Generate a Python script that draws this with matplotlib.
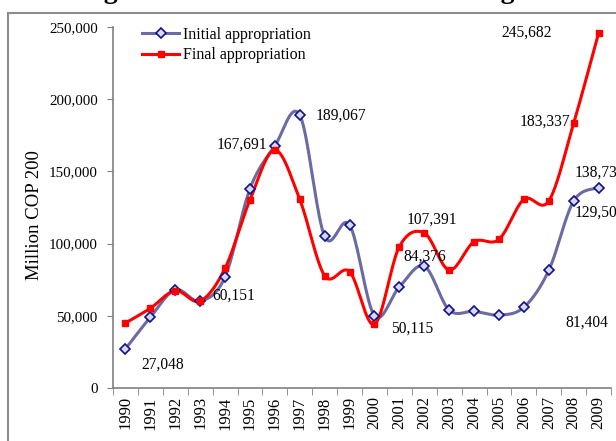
import numpy as np
import matplotlib
matplotlib.use("Agg")
import matplotlib.pyplot as plt
from matplotlib.patches import Rectangle
from matplotlib.ticker import FuncFormatter

# data (million COP)
years = [str(y) for y in range(1990, 2010)]
initial = [27048, 49000, 68000, 60151, 77000, 138000, 167691, 189067, 105000, 113000,
           50115, 70000, 84376, 54000, 53100, 50500, 55900, 81404, 129500, 138730]
final = [45000, 55200, 67400, 60200, 82900, 130200, 164800, 130600, 77800, 80600,
         44100, 97900, 107391, 81700, 101300, 102900, 130600, 129500, 183337, 245682]

# labels that the chart shows: (year index, text, offset px, alignment)
labels_init = [(0, "27,048", (16, -16), "left"),
               (3, "60,151", (12, 6), "left"),
               (6, "167,691", (-8, 1), "right"),
               (7, "189,067", (16, -1), "left"),
               (10, "50,115", (17, -13), "left"),
               (12, "84,376", (-21, 10), "left"),
               (17, "81,404", (17, -52), "left"),
               (18, "129,50", (1, -12), "left"),
               (19, "138,73", (-24, 15), "left")]
labels_final = [(12, "107,391", (-18, 13), "left"),
                (18, "183,337", (-3, 2), "right"),
                (19, "245,682", (-47, 1), "right")]


def smooth(x, y, n=20):
    # excel-like smoothed line through the points (catmull-rom as bezier)
    x = np.asarray(x, float)
    y = np.asarray(y, float)
    px = np.concatenate([[x[0]], x, [x[-1]]])
    py = np.concatenate([[y[0]], y, [y[-1]]])
    xs, ys = [], []
    t = np.linspace(0, 1, n)
    for i in range(1, len(px) - 2):
        p0 = np.array([px[i], py[i]])
        p3 = np.array([px[i + 1], py[i + 1]])
        p1 = p0 + (np.array([px[i + 1], py[i + 1]]) - np.array([px[i - 1], py[i - 1]])) / 6
        p2 = p3 - (np.array([px[i + 2], py[i + 2]]) - np.array([px[i], py[i]])) / 6
        b = ((1 - t) ** 3)[:, None] * p0 + (3 * (1 - t) ** 2 * t)[:, None] * p1 \
            + (3 * (1 - t) * t ** 2)[:, None] * p2 + (t ** 3)[:, None] * p3
        xs.extend(b[:, 0])
        ys.extend(b[:, 1])
    return xs, ys


plt.rcParams['font.family'] = ['Liberation Serif', 'DejaVu Serif']

fig = plt.figure(figsize=(6.16, 4.41), dpi=100)
ax = fig.add_axes([113 / 616, 1 - 388 / 441, 498 / 616, 361 / 441])

xi = np.arange(len(years))
blue = '#6B6BA3'
sx, sy = smooth(xi, initial)
ax.plot(sx, sy, color=blue, lw=2.2, zorder=2)
ax.plot(xi, initial, ls='none', marker='D', ms=5, mfc='#D8D8F0', mec='#10108A', mew=1.2, zorder=4)
rx, ry = smooth(xi, final)
ax.plot(rx, ry, color='#FF0000', lw=2.2, zorder=3)
ax.plot(xi, final, ls='none', marker='s', ms=4, mfc='#FF0000', mec='#FF0000', zorder=5)

# legend from proxy lines
l1, = ax.plot([], [], color=blue, lw=2.2, marker='D', ms=5, mfc='#D8D8F0', mec='#10108A', mew=1.2)
l2, = ax.plot([], [], color='#FF0000', lw=2.2, marker='s', ms=4, mfc='#FF0000', mec='#FF0000')
ax.legend([l1, l2], ['Initial appropriation', 'Final appropriation'], loc='upper left',
          bbox_to_anchor=(0.03, 1.04), frameon=False, fontsize=11.5, handlelength=2.3,
          handletextpad=0.25, labelspacing=0.28)

for i, txt, off, ha in labels_init:
    ax.annotate(txt, (xi[i], initial[i]), xytext=(off[0] * 0.72, off[1] * 0.72),
                textcoords='offset points', ha=ha, va='center', fontsize=11.2,
                annotation_clip=False, zorder=6)
for i, txt, off, ha in labels_final:
    ax.annotate(txt, (xi[i], final[i]), xytext=(off[0] * 0.72, off[1] * 0.72),
                textcoords='offset points', ha=ha, va='center', fontsize=11.2,
                annotation_clip=False, zorder=6)

ax.set_xlim(-0.5, len(years) - 0.5)
ax.set_ylim(0, 250000)
ax.set_yticks(np.arange(0, 250001, 50000))
ax.yaxis.set_major_formatter(FuncFormatter(lambda v, p: f"{int(v):,}"))
ax.set_xticks(xi)
ax.set_xticklabels(years, rotation=90, fontsize=12)
ax.set_xticks(np.arange(-0.5, len(years)), minor=True)
ax.tick_params(axis='x', which='major', length=0, pad=6)
ax.tick_params(axis='x', which='minor', length=5, color='#808080', direction='out')
ax.tick_params(axis='y', length=4, color='#808080', labelsize=10.8, pad=7)
ax.set_ylabel('Million COP 200', fontsize=13.5)
ax.yaxis.set_label_coords(-0.14, 0.479)
for s in ['top', 'right']:
    ax.spines[s].set_visible(False)
for s in ['left', 'bottom']:
    ax.spines[s].set_color('#808080')
    ax.spines[s].set_linewidth(1.2)

# outer chart border and the page title cut off above it
fig.patches.append(Rectangle((8 / 616, -0.05), 1.1, 1 - 13 / 441 + 0.05,
                             transform=fig.transFigure, fill=False, ec='#8C8C8C', lw=1.5))
fig.text(0.5, 1 + 2 / 441, 'Figure 4. Evolution of the NCS Budget', ha='center',
         va='baseline', fontsize=20, fontweight='bold')

fig.savefig('out.png', dpi=100)
